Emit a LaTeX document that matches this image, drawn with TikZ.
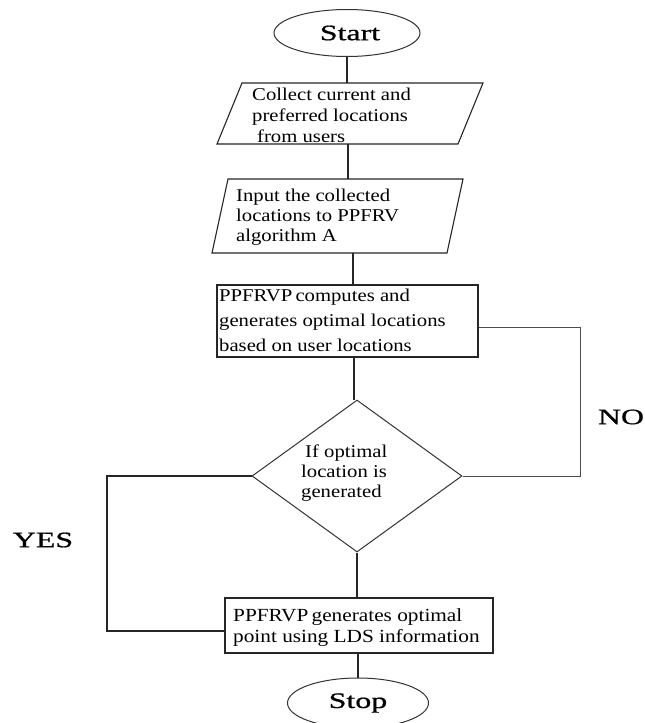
\documentclass[tikz,border=0pt]{standalone}
\usepackage{fontspec}
\setmainfont{Liberation Serif}[FakeStretch=1.15]
\newfontfamily\bigf{Liberation Serif}[FakeStretch=1.45,FakeBold=0.8]
\usetikzlibrary{shapes.geometric,calc}
\begin{document}
\begin{tikzpicture}[x=1pt,y=-1pt,
  ln/.style={draw=black!85,line width=1.1pt},
  hidden/.style={inner sep=0pt,outer sep=0pt},
  term/.style={ellipse,draw=black!80,line width=1pt,inner sep=0pt,font=\bigf\fontsize{22}{24}\selectfont},
  procbox/.style={rectangle,draw=black!85,line width=1.1pt,inner sep=0pt},
  txt/.style={font=\fontsize{18}{21}\selectfont,align=left,anchor=west,inner sep=0pt},
  lbl/.style={font=\bigf\fontsize{22}{24}\selectfont,inner sep=0pt}]
\useasboundingbox[fill=white] (0,0) rectangle (645,723);

% terminals
\node[term,minimum width=146pt,minimum height=47pt] (start) at (347,33) {\hspace{6pt}Start};
\node[term,minimum width=141pt,minimum height=50pt] (stop) at (358,703) {Stop};

% input 1 (parallelogram)
\node[hidden,minimum width=266pt,minimum height=61pt] (in1) at (350,113.5) {};
\draw[ln] ($(in1.north west)+(25,0)$) -- (in1.north east) -- ($(in1.south east)+(-25,0)$) -- (in1.south west) -- cycle;
\node[txt,font=\fontsize{18}{21}\selectfont] (in1t) at (252,115) {Collect current and\\preferred locations\\\hspace{5pt}from users};

% input 2 (parallelogram)
\node[hidden,minimum width=251pt,minimum height=74pt] (in2) at (337.5,216) {};
\draw[ln] ($(in2.north west)+(16,0)$) -- (in2.north east) -- ($(in2.south east)+(-16,0)$) -- (in2.south west) -- cycle;
\node[txt,font=\fontsize{18}{20}\selectfont] (in2t) at (236,217) {Input the collected\\locations to PPFRV\\algorithm A};

% process 1
\node[procbox,minimum width=261pt,minimum height=72pt] (box1) at (347.5,321) {};
\node[txt,font=\fontsize{18}{25}\selectfont] (box1t) at (219,320) {PPFRVP\hspace{-2pt} computes and\\generates optimal locations\\based on user locations};

% decision
\node[diamond,draw=black!80,line width=1pt,inner sep=0pt,minimum width=210pt,minimum height=152pt] (dia) at (357,476) {};
\node[txt,font=\fontsize{18}{20}\selectfont] (diat) at (301,473) {\hspace{4pt}If optimal\\location is\\generated};

% process 2
\node[procbox,minimum width=268pt,minimum height=55pt] (box2) at (359,625.5) {};
\node[txt,font=\fontsize{18.5}{21}\selectfont] (box2t) at (233,628) {PPFRVP\hspace{-2pt} generates optimal\\point using LDS information};

% labels
\node[lbl] (no) at (621,417) {NO};
\node[lbl] (yes) at (43,540) {YES};

% connectors
\draw[ln] (start.south) -- (start.south |- in1.north);
\draw[ln] ([xshift=-2pt]in1.south) -- ([xshift=-2pt]in1.south |- in2.north);
\draw[ln] ([xshift=5.5pt]box1.north |- in2.south) -- ([xshift=5.5pt]box1.north);
\draw[ln] ([xshift=-3pt]dia.north |- box1.south) -- ([xshift=-3pt]dia.north);
\draw[ln] (dia.south) -- (dia.south |- box2.north);
\draw[ln] (stop.north |- box2.south) -- (stop.north);

\coordinate (noR) at (580,476);
\draw[draw=black!70,line width=0.9pt] ([yshift=-6pt]box1.east) -| (noR) -- (dia.east);
\coordinate (yesL) at (107,476);
\draw[ln] ([yshift=-5.5pt]box2.west) -| (yesL) -- (dia.west);
\end{tikzpicture}
\end{document}
